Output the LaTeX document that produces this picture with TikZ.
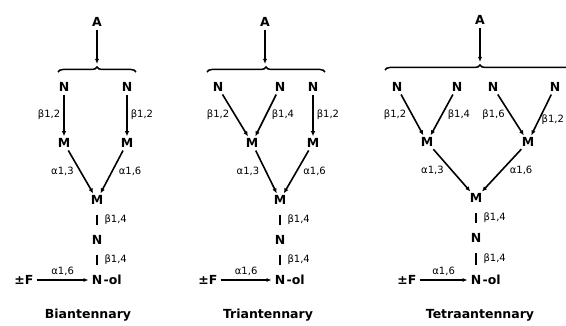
\documentclass[tikz,border=0pt]{standalone}
\usepackage{fontspec}
\setmainfont{DejaVu Sans}
\usetikzlibrary{arrows.meta,decorations.pathreplacing}
\begin{document}
\begin{tikzpicture}[x=1pt,y=-1pt,
  res/.style={font=\bfseries\fontsize{12.5}{12.5}\selectfont, inner sep=1pt},
  lnk/.style={font=\fontsize{10}{10}\selectfont, inner sep=0pt},
  ttl/.style={font=\bfseries\fontsize{12.5}{12.5}\selectfont, inner sep=0pt},
  arr/.style={-{Latex[length=5pt,width=4.5pt]}, line width=1.6pt, shorten <=2pt, shorten >=1pt},
  thinarr/.style={-{Latex[length=5pt,width=4pt]}, line width=1.2pt, shorten <=2pt, shorten >=2pt},
  bar/.style={line width=1.1pt, shorten <=9pt, shorten >=9pt},
  brc/.style={decorate, decoration={brace, amplitude=5pt}, line width=1.5pt}]
\useasboundingbox (0,0) rectangle (566,326);

% Biantennary
\node[res] (a1) at (97,22) {A};
\coordinate (b1l) at (58,72);
\coordinate (b1r) at (136,72);
\coordinate (b1t) at (97,66);
\draw[brc] (b1l) -- (b1r);
\draw[thinarr] (a1) -- (b1t);
\node[res] (n1a) at (64,87) {N};
\node[res] (n1b) at (127,87) {N};
\node[res] (m1a) at (64,143) {M};
\node[res] (m1b) at (127,143) {M};
\draw[arr] (n1a) -- node[lnk, left=3pt] {β1,2} (m1a);
\draw[arr] (n1b) -- node[lnk, right=3pt] {β1,2} (m1b);
\node[res] (m1c) at (97,200) {M};
\draw[arr] (m1a) -- node[lnk, left=6pt] {α1,3} (m1c);
\draw[arr] (m1b) -- node[lnk, right=6pt] {α1,6} (m1c);
\node[res] (n1c) at (97,240) {N};
\draw[bar] (m1c) -- node[lnk, right=7pt] {β1,4} (n1c);
\node[res] (n1d) at (97,280) {N};
\node[res, anchor=west, inner xsep=0pt] (ol1) at (n1d.east) {-ol};
\draw[bar] (n1c) -- node[lnk, right=7pt] {β1,4} (n1d);
\node[res] (f1) at (24,280) {±F};
\draw[thinarr] (f1) -- node[lnk, above=4pt] {α1,6} (n1d);
\node[ttl] (t1) at (88,315) {Biantennary};

% Triantennary
\node[res] (a2) at (265,22) {A};
\coordinate (b2l) at (207,72);
\coordinate (b2r) at (325,72);
\coordinate (b2t) at (265,66);
\draw[brc] (b2l) -- (b2r);
\draw[thinarr] (a2) -- (b2t);
\node[res] (n2a) at (218,87) {N};
\node[res] (n2b) at (280,87) {N};
\node[res] (n2c) at (313,87) {N};
\node[res] (m2a) at (252,143) {M};
\node[res] (m2b) at (313,143) {M};
\draw[arr] (n2a) -- node[lnk, left=5pt] {β1,2} (m2a);
\draw[arr] (n2b) -- node[lnk, right=5pt] {β1,4} (m2a);
\draw[arr] (n2c) -- node[lnk, right=3pt] {β1,2} (m2b);
\node[res] (m2c) at (280,200) {M};
\draw[arr] (m2a) -- node[lnk, left=6pt] {α1,3} (m2c);
\draw[arr] (m2b) -- node[lnk, right=6pt] {α1,6} (m2c);
\node[res] (n2d) at (280,240) {N};
\draw[bar] (m2c) -- node[lnk, right=7pt] {β1,4} (n2d);
\node[res] (n2e) at (280,280) {N};
\node[res, anchor=west, inner xsep=0pt] (ol2) at (n2e.east) {-ol};
\draw[bar] (n2d) -- node[lnk, right=7pt] {β1,4} (n2e);
\node[res] (f2) at (208,280) {±F};
\draw[thinarr] (f2) -- node[lnk, above=4pt] {α1,6} (n2e);
\node[ttl] (t2) at (268,315) {Triantennary};

% Tetraantennary
\node[res] (a3) at (480,20) {A};
\coordinate (b3l) at (385,70);
\coordinate (b3r) at (575,70);
\coordinate (b3t) at (480,64);
\draw[brc] (b3l) -- (b3r);
\draw[thinarr] (a3) -- (b3t);
\node[res] (n3a) at (397,87) {N};
\node[res] (n3b) at (457,87) {N};
\node[res] (n3c) at (493,87) {N};
\node[res] (n3d) at (555,87) {N};
\node[res] (m3a) at (427,142) {M};
\node[res] (m3b) at (528,142) {M};
\draw[arr] (n3a) -- node[lnk, left=5pt] {β1,2} (m3a);
\draw[arr] (n3b) -- node[lnk, right=5pt] {β1,4} (m3a);
\draw[arr] (n3c) -- node[lnk, left=5pt] {β1,6} (m3b);
\draw[arr] (n3d) -- node[lnk, right=2pt, pos=0.62] {β1,2} (m3b);
\node[res] (m3c) at (476,198) {M};
\draw[arr] (m3a) -- node[lnk, left=7pt] {α1,3} (m3c);
\draw[arr] (m3b) -- node[lnk, right=7pt] {α1,6} (m3c);
\node[res] (n3e) at (476,238) {N};
\draw[bar] (m3c) -- node[lnk, right=7pt] {β1,4} (n3e);
\node[res] (n3f) at (476,280) {N};
\node[res, anchor=west, inner xsep=0pt] (ol3) at (n3f.east) {-ol};
\draw[bar] (n3e) -- node[lnk, right=7pt] {β1,4} (n3f);
\node[res] (f3) at (407,280) {±F};
\draw[thinarr] (f3) -- node[lnk, above=4pt] {α1,6} (n3f);
\node[ttl] (t3) at (480,315) {Tetraantennary};
\end{tikzpicture}
\end{document}
